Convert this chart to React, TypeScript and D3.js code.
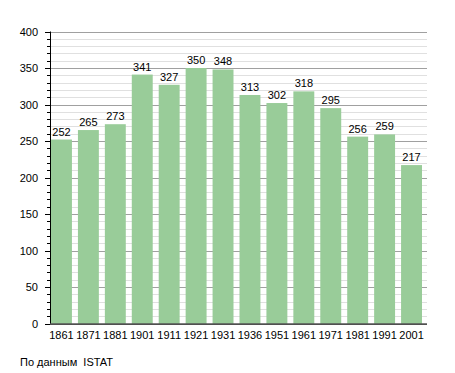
import React from "react";
import * as d3 from "d3";

const years = ["1861","1871","1881","1901","1911","1921","1931","1936","1951","1961","1971","1981","1991","2001"];
const values = [252,265,273,341,327,350,348,313,302,318,295,256,259,217];
const yTicks = [0,50,100,150,200,250,300,350,400];
const footer = "По данным  ISTAT";

export default function App() {
  const W = 455, H = 373;
  const left = 50, right = 427, top = 31.5, bottom = 323.5;
  const y = d3.scaleLinear().domain([0, 400]).range([bottom, top]);
  const x = d3.scaleBand<string>().domain(years).range([left, right]).paddingInner(0).paddingOuter(0);
  const step = x.step();
  const minor = d3.range(0, 401, 10);
  const font = "'Liberation Sans', Arial, sans-serif";
  return (
    <svg width={W} height={H} style={{ position: "absolute", left: 0, top: 0, background: "#fff" }}>
      {minor.map(v => (
        <g key={"m" + v}>
          <line x1={left} x2={right} y1={Math.round(y(v)) + 0.5} y2={Math.round(y(v)) + 0.5}
            stroke={v % 50 === 0 ? "#a0a0a0" : "#e0e0e0"} strokeWidth={1} />
          <line x1={left - (v % 50 === 0 ? 5 : 3)} x2={left} y1={Math.round(y(v)) + 0.5} y2={Math.round(y(v)) + 0.5}
            stroke="#000" strokeWidth={1} />
        </g>
      ))}
      {values.map((v, i) => {
        const x0 = (x(years[i]) as number) + 1;
        const w = step - 6;
        return (
          <g key={"b" + i}>
            <rect x={x0} y={y(v)} width={w} height={bottom - y(v)} fill="#99cc99" />
            <text x={x0 + w / 2} y={y(v) - 4} textAnchor="middle" fontFamily={font} fontSize={11} fill="#000">{v}</text>
            <text x={x0 + w / 2} y={bottom + 15} textAnchor="middle" fontFamily={font} fontSize={11} fill="#000">{years[i]}</text>
          </g>
        );
      })}
      <line x1={left + 0.5} x2={left + 0.5} y1={top} y2={bottom} stroke="#000" strokeWidth={1} />
      <line x1={left} x2={right} y1={bottom + 0.5} y2={bottom + 0.5} stroke="#000" strokeWidth={1} />
      {yTicks.map(v => (
        <text key={"t" + v} x={38} y={y(v) + 4} textAnchor="end" fontFamily={font} fontSize={11} fill="#000">{v}</text>
      ))}
      <text x={20} y={366} fontFamily={font} fontSize={11} fill="#000" style={{ whiteSpace: "pre" }}>{footer}</text>
    </svg>
  );
}
